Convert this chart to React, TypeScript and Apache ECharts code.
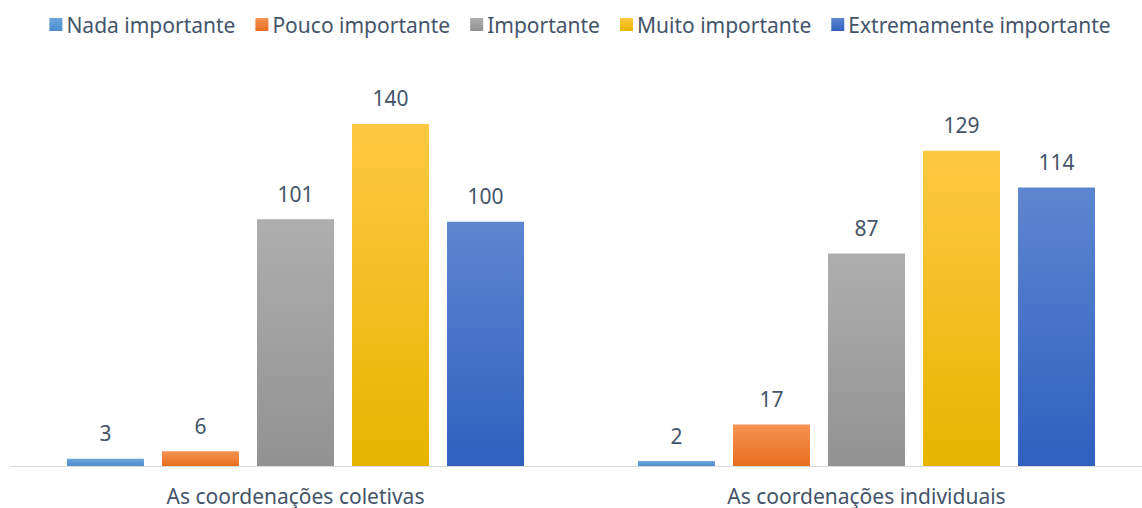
import React, { useEffect, useRef } from "react";
import * as echarts from "echarts";

const categories = ["As coordenações coletivas", "As coordenações individuais"];
const seriesNames = ["Nada importante", "Pouco importante", "Importante", "Muito importante", "Extremamente importante"];
const nada = [3, 2];
const pouco = [6, 17];
const importante = [101, 87];
const muito = [140, 129];
const extremamente = [100, 114];
const seriesValues = [nada, pouco, importante, muito, extremamente];

const gradients: [string, string][] = [
  ["#6CA6DC", "#4C8DCD"],
  ["#F59352", "#E86E1E"],
  ["#AEAEAE", "#929292"],
  ["#FFC843", "#E6B500"],
  ["#5D86D0", "#2F60BE"],
];

const FONT = "Noto Sans";
const TEXT = "#44546A";

export default function App() {
  const ref = useRef<HTMLDivElement>(null);
  useEffect(() => {
    if (!ref.current) return;
    const chart = echarts.init(ref.current, undefined, { renderer: "svg" });
    chart.setOption({
      animation: false,
      textStyle: { fontFamily: FONT },
      legend: {
        data: seriesNames,
        top: 9,
        left: "center",
        itemWidth: 13,
        itemHeight: 13,
        itemGap: 20,
        icon: "rect",
        textStyle: { fontFamily: FONT, fontSize: 21, color: TEXT, padding: [0, 0, 0, -1] },
      },
      grid: { left: 10, right: 8, top: 75, bottom: 42, containLabel: false },
      xAxis: {
        type: "category",
        data: categories,
        axisLine: { lineStyle: { color: "#D9D9D9", width: 1 } },
        axisTick: { show: false },
        axisLabel: { fontFamily: FONT, fontSize: 21, color: TEXT, margin: 19 },
      },
      yAxis: {
        type: "value",
        min: 0,
        max: 160,
        show: false,
        splitLine: { show: false },
      },
      series: seriesNames.map((name, i) => ({
        name,
        type: "bar",
        data: seriesValues[i],
        barWidth: 77,
        barGap: "23.4%",
        itemStyle: {
          color: new echarts.graphic.LinearGradient(0, 0, 0, 1, [
            { offset: 0, color: gradients[i][0] },
            { offset: 1, color: gradients[i][1] },
          ]),
        },
        label: {
          show: true,
          position: "top",
          distance: 15,
          fontFamily: FONT,
          fontSize: 21,
          color: TEXT,
        },
      })),
    });
    return () => chart.dispose();
  }, []);
  return (
    <div style={{ position: "fixed", left: 0, top: 0, width: 1142, height: 508, overflow: "hidden", background: "#fff" }}>
      <div ref={ref} style={{ width: 1160, height: 508 }} />
    </div>
  );
}
